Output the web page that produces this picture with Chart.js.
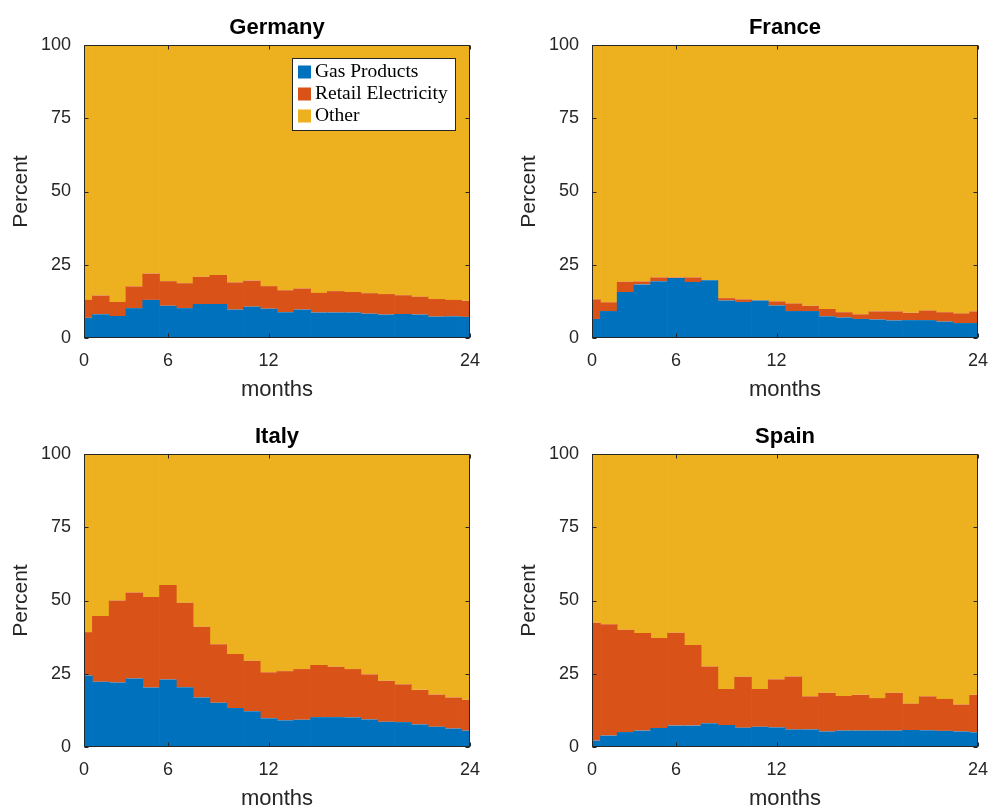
<!DOCTYPE html>
<html lang="en">
<head>
<meta charset="UTF-8">
<title>Shares by country</title>
<script src="https://cdn.jsdelivr.net/npm/chart.js@4.4.0/dist/chart.umd.min.js"></script>
<style>
    body {
        margin: 0;
        width: 991px;
        height: 807px;
        overflow: hidden;
        position: relative;
        background: #fff;
    }
    .panel {
        position: absolute;
        width: 495px;
        height: 403px;
    }
</style>
</head>
<body>

<div class="panel" style="left:0;top:0"><canvas id="germanyChart" width="495" height="403"></canvas></div>
<div class="panel" style="left:508px;top:0"><canvas id="franceChart" width="495" height="403"></canvas></div>
<div class="panel" style="left:0;top:409px"><canvas id="italyChart" width="495" height="403"></canvas></div>
<div class="panel" style="left:508px;top:409px"><canvas id="spainChart" width="495" height="403"></canvas></div>

<script>
    const months = [1, 2, 3, 4, 5, 6, 7, 8, 9, 10, 11, 12, 13, 14, 15, 16, 17, 18, 19, 20, 21, 22, 23, 24];
    const xTickPos = [1, 6, 12, 24];
    const xTickLabels = ['0', '6', '12', '24'];
    const yTicks = [0, 25, 50, 75, 100];

    const germanyGas = [6.9, 8.1, 7.5, 10.2, 13.0, 11.0, 10.2, 11.6, 11.6, 9.7, 10.7, 10.0, 8.8, 9.7, 8.7, 8.7, 8.7, 8.3, 8.0, 8.2, 8.0, 7.3, 7.4, 7.2];
    const germanyRetail = [6.1, 6.4, 4.8, 7.4, 9.0, 8.4, 8.5, 9.3, 9.9, 9.3, 8.9, 7.7, 7.5, 7.2, 6.7, 7.3, 7.0, 7.0, 7.0, 6.4, 6.1, 6.0, 5.6, 5.5];
    const germanyOther = [87.0, 85.5, 87.7, 82.4, 78.0, 80.6, 81.3, 79.1, 78.5, 81.0, 80.4, 82.3, 83.7, 83.1, 84.6, 84.0, 84.3, 84.7, 85.0, 85.4, 85.9, 86.7, 87.0, 87.3];

    const franceGas = [6.5, 9.2, 15.7, 18.3, 19.4, 20.5, 19.1, 19.7, 12.8, 12.3, 12.8, 11.1, 9.2, 9.2, 7.4, 7.0, 6.5, 6.3, 6.0, 6.1, 6.1, 5.6, 5.1, 5.1];
    const franceRetail = [6.7, 3.0, 3.5, 1.0, 1.3, 0.2, 1.6, 0.1, 0.8, 0.9, 0.1, 1.4, 2.6, 1.8, 2.5, 1.8, 1.6, 2.8, 3.1, 2.5, 3.3, 3.2, 3.3, 4.0];
    const franceOther = [86.8, 87.8, 80.8, 80.7, 79.3, 79.3, 79.3, 80.2, 86.4, 86.8, 87.1, 87.5, 88.2, 89.0, 90.1, 91.2, 91.9, 90.9, 90.9, 91.4, 90.6, 91.2, 91.6, 90.9];

    const italyGas = [24.4, 22.3, 22.0, 23.4, 20.3, 23.0, 20.4, 16.9, 15.1, 13.3, 12.2, 9.8, 9.1, 9.3, 10.2, 10.2, 10.1, 9.4, 8.6, 8.5, 7.7, 6.9, 6.3, 5.6];
    const italyRetail = [14.8, 22.4, 28.0, 29.3, 30.9, 32.3, 28.8, 24.1, 20.0, 18.4, 17.2, 15.7, 16.8, 17.3, 17.8, 17.2, 16.5, 15.4, 14.0, 12.9, 11.8, 11.0, 10.6, 10.5];
    const italyOther = [60.8, 55.3, 50.0, 47.3, 48.8, 44.7, 50.8, 59.0, 64.9, 68.3, 70.6, 74.5, 74.1, 73.4, 72.0, 72.6, 73.4, 75.2, 77.4, 78.6, 80.5, 82.1, 83.1, 83.9];

    const spainGas = [2.2, 3.9, 5.1, 5.6, 6.5, 7.3, 7.3, 8.1, 7.5, 6.6, 6.9, 6.7, 6.0, 6.0, 5.3, 5.6, 5.6, 5.6, 5.6, 5.8, 5.7, 5.5, 5.3, 5.0];
    const spainRetail = [40.2, 38.0, 34.9, 33.3, 30.7, 31.7, 27.5, 19.4, 12.3, 17.4, 12.9, 16.4, 18.1, 11.3, 13.2, 11.8, 12.2, 11.1, 12.9, 9.0, 11.6, 10.9, 9.2, 12.8];
    const spainOther = [57.6, 58.1, 60.0, 61.1, 62.8, 61.0, 65.2, 72.5, 80.2, 76.0, 80.2, 76.9, 75.9, 82.7, 81.5, 82.6, 82.2, 83.3, 81.5, 85.2, 82.7, 83.6, 85.5, 82.2];

    const seriesNames = ['Gas Products', 'Retail Electricity', 'Other'];
    const seriesColors = ['#0072BD', '#D95319', '#EDB120'];

    // matlab-style box with inward ticks on all four sides, title centred over the axes
    const matlabBox = {
        id: 'matlabBox',
        afterDatasetsDraw(chart, args, opts) {
            const {ctx, chartArea: a, scales: {x, y}} = chart;
            const L = Math.round(a.left) + 0.5, R = Math.round(a.right) - 0.5;
            const T = Math.round(a.top) + 0.5, B = Math.round(a.bottom) - 0.5;
            ctx.save();
            ctx.strokeStyle = '#262626';
            ctx.lineWidth = 1;
            ctx.beginPath();
            xTickPos.forEach(v => {
                const px = Math.round(x.getPixelForValue(v)) + 0.5;
                ctx.moveTo(px, B); ctx.lineTo(px, B - 4);
                ctx.moveTo(px, T); ctx.lineTo(px, T + 4);
            });
            yTicks.forEach(v => {
                const py = Math.round(y.getPixelForValue(v)) + 0.5;
                ctx.moveTo(L, py); ctx.lineTo(L + 4, py);
                ctx.moveTo(R, py); ctx.lineTo(R - 4, py);
            });
            ctx.stroke();
            ctx.strokeRect(L, T, R - L, B - T);

            ctx.fillStyle = '#000';
            ctx.font = 'bold 22px "Liberation Sans"';
            ctx.textAlign = 'center';
            ctx.textBaseline = 'middle';
            ctx.fillText(opts.title, (a.left + a.right) / 2, a.top - 17);
            ctx.restore();
        }
    };

    const boxLegend = {
        id: 'boxLegend',
        afterDraw(chart, args, opts) {
            if (!opts.show) return;
            const {ctx, chartArea: a} = chart;
            const left = Math.round(a.left + 208) + 0.5, top = Math.round(a.top + 13) + 0.5;
            ctx.save();
            ctx.fillStyle = '#fff';
            ctx.fillRect(left, top, 163, 72);
            ctx.strokeStyle = '#262626';
            ctx.lineWidth = 1;
            ctx.strokeRect(left, top, 163, 72);
            ctx.font = '19.5px "Liberation Serif"';
            ctx.textBaseline = 'middle';
            chart.data.datasets.forEach((ds, i) => {
                const cy = top + 13.5 + i * 22;
                ctx.fillStyle = ds.backgroundColor;
                ctx.fillRect(left + 5.5, cy - 6.5, 13, 13);
                ctx.fillStyle = '#000';
                ctx.fillText(ds.label, left + 22.5, cy);
            });
            ctx.restore();
        }
    };

    function makeData(gas, retail, other) {
        const parts = [gas, retail, other];
        return {
            datasets: parts.map((vals, k) => ({
                label: seriesNames[k],
                data: months.map((m, i) => ({x: m, y: vals[i]})),
                backgroundColor: seriesColors[k]
            }))
        };
    }

    function makeOptions(title, showLegend) {
        const sans = 'Liberation Sans';
        return {
            responsive: false,
            animation: false,
            layout: {padding: {left: 0, right: 25, top: 45, bottom: 0}},
            datasets: {
                bar: {barPercentage: 1.04, categoryPercentage: 1, borderWidth: 0, clip: 0}
            },
            plugins: {
                legend: {display: false},
                tooltip: {enabled: false},
                title: {display: false},
                matlabBox: {title: title},
                boxLegend: {show: showLegend}
            },
            scales: {
                x: {
                    type: 'linear', min: 1, max: 24, offset: false, stacked: true,
                    grid: {display: false}, border: {display: false},
                    afterBuildTicks: s => { s.ticks = xTickPos.map(v => ({value: v})); },
                    afterFit: s => { s.height = 65; },
                    ticks: {
                        color: '#262626', font: {family: sans, size: 18}, padding: 4,
                        maxRotation: 0, autoSkip: false,
                        callback: (v, i) => xTickLabels[i]
                    },
                    title: {
                        display: true, text: 'months', color: '#262626',
                        font: {family: sans, size: 22}, padding: {top: 0, bottom: 0}
                    }
                },
                y: {
                    min: 0, max: 100, stacked: true,
                    grid: {display: false}, border: {display: false},
                    afterBuildTicks: s => { s.ticks = yTicks.map(v => ({value: v})); },
                    afterFit: s => { s.width = 84; },
                    ticks: {color: '#262626', font: {family: sans, size: 18}, padding: 5},
                    title: {
                        display: true, text: 'Percent', color: '#262626',
                        font: {family: sans, size: 21}, padding: {top: 9, bottom: 0}
                    }
                }
            }
        };
    }

    function renderPanel(id, title, gas, retail, other, showLegend) {
        new Chart(document.getElementById(id), {
            type: 'bar',
            data: makeData(gas, retail, other),
            options: makeOptions(title, showLegend),
            plugins: [matlabBox, boxLegend]
        });
    }

    renderPanel('germanyChart', 'Germany', germanyGas, germanyRetail, germanyOther, true);
    renderPanel('franceChart', 'France', franceGas, franceRetail, franceOther, false);
    renderPanel('italyChart', 'Italy', italyGas, italyRetail, italyOther, false);
    renderPanel('spainChart', 'Spain', spainGas, spainRetail, spainOther, false);
</script>

</body>
</html>
